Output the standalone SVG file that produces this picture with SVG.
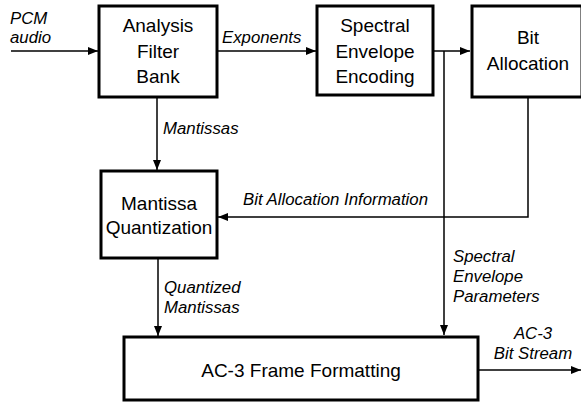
<svg xmlns="http://www.w3.org/2000/svg" width="581" height="403" viewBox="0 0 581 403">
<style>
.box{fill:#fff;stroke:#000;stroke-width:3}
.bt{font-family:"Liberation Sans",Arial,sans-serif;font-size:19px;text-anchor:middle;fill:#000}
.lb{font-family:"Liberation Sans",Arial,sans-serif;font-size:16.8px;font-style:italic;fill:#000}
.ln{fill:none;stroke:#000;stroke-width:1.5}
</style>
<defs>
<marker id="ah" viewBox="0 0 10 8" refX="10" refY="4" markerWidth="10" markerHeight="8" markerUnits="userSpaceOnUse" orient="auto">
<path d="M0,0 L10,4 L0,8 Z" fill="#000"/>
</marker>
</defs>
<g id="connectors">
<line class="ln" x1="11" y1="51" x2="98" y2="51" marker-end="url(#ah)"/>
<line class="ln" x1="218" y1="51" x2="316" y2="51" marker-end="url(#ah)"/>
<line class="ln" x1="434" y1="51" x2="470" y2="51" marker-end="url(#ah)"/>
<line class="ln" x1="444" y1="51" x2="444" y2="335" marker-end="url(#ah)"/>
<line class="ln" x1="157" y1="98" x2="157" y2="170" marker-end="url(#ah)"/>
<polyline class="ln" points="528,98 528,217 218,217" marker-end="url(#ah)"/>
<line class="ln" x1="158" y1="259" x2="158" y2="336" marker-end="url(#ah)"/>
<line class="ln" x1="479" y1="370" x2="581" y2="370" marker-end="url(#ah)"/>
<text class="lb" x="10" y="24">PCM</text>
<text class="lb" x="10" y="43">audio</text>
<text class="lb" x="222" y="43">Exponents</text>
<text class="lb" x="163" y="134">Mantissas</text>
<text class="lb" x="243" y="205">Bit Allocation Information</text>
<text class="lb" x="453" y="262">Spectral</text>
<text class="lb" x="453" y="282">Envelope</text>
<text class="lb" x="453" y="302">Parameters</text>
<text class="lb" x="164" y="293">Quantized</text>
<text class="lb" x="164" y="313">Mantissas</text>
<text class="lb" x="533" y="339" text-anchor="middle">AC-3</text>
<text class="lb" x="533" y="359" text-anchor="middle">Bit Stream</text>
</g>
<g id="analysis">
<rect class="box" x="99" y="6" width="118" height="91"/>
<text class="bt" x="158" y="32">Analysis</text>
<text class="bt" x="158" y="58">Filter</text>
<text class="bt" x="158" y="83">Bank</text>
</g>
<g id="spectral">
<rect class="box" x="317" y="6" width="116" height="89"/>
<text class="bt" x="375" y="32">Spectral</text>
<text class="bt" x="375" y="58">Envelope</text>
<text class="bt" x="375" y="83">Encoding</text>
</g>
<g id="bitalloc">
<rect class="box" x="472" y="6" width="110" height="91"/>
<text class="bt" x="528" y="44">Bit</text>
<text class="bt" x="528" y="70">Allocation</text>
</g>
<g id="mantissa">
<rect class="box" x="101" y="171" width="116" height="87"/>
<text class="bt" x="159" y="210">Mantissa</text>
<text class="bt" x="159" y="234">Quantization</text>
</g>
<g id="frame">
<rect class="box" x="124" y="337" width="354" height="63"/>
<text class="bt" x="301" y="377">AC-3 Frame Formatting</text>
</g>
</svg>
